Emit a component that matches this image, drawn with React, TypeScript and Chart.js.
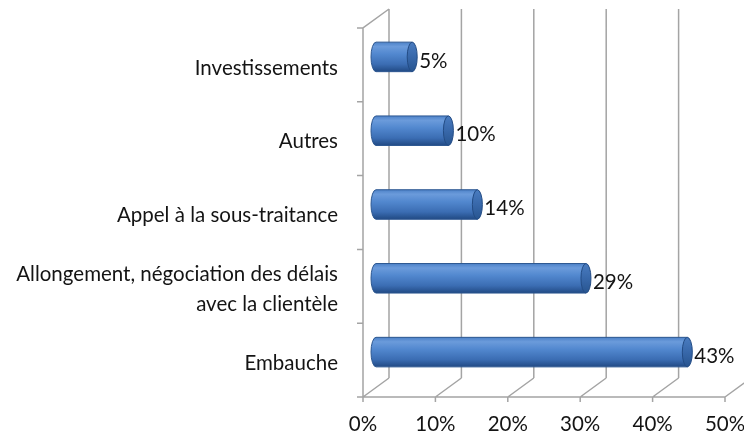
import React, { useEffect, useRef } from 'react';
import { Chart, registerables } from 'chart.js';

Chart.register(...registerables);

const categories: (string | string[])[] = [
  'Investissements',
  'Autres',
  'Appel à la sous-traitance',
  ['Allongement, négociation des délais', 'avec la clientèle'],
  'Embauche',
];
const values = [5, 10, 14, 29, 43];
const tickValues = [0, 10, 20, 30, 40, 50];

const FONT = 'Lato';
const FS = 20.5;
const WALL_DX = 26;
const WALL_DY = -19;
const BAR_DX = 13;
const BAR_DY = -8;
const GRID = '#a4a4a4';
const TEXT = '#141414';

const wallPlugin = {
  id: 'wall3d',
  beforeDatasetsDraw(chart: any) {
    const { ctx, chartArea: a, scales } = chart;
    const x = scales.x;
    const y = scales.y;
    ctx.save();
    ctx.strokeStyle = GRID;
    ctx.lineWidth = 1.5;
    ctx.beginPath();
    tickValues.forEach((v) => {
      const px = x.getPixelForValue(v);
      ctx.moveTo(px + WALL_DX, a.top + WALL_DY);
      ctx.lineTo(px + WALL_DX, a.bottom + WALL_DY);
      ctx.moveTo(px, a.bottom);
      ctx.lineTo(px + WALL_DX, a.bottom + WALL_DY);
      ctx.moveTo(px, a.bottom);
      ctx.lineTo(px, a.bottom + 5);
    });
    ctx.moveTo(a.left + WALL_DX, a.top + WALL_DY);
    ctx.lineTo(a.left, a.top);
    ctx.lineTo(a.left, a.bottom);
    ctx.lineTo(a.right, a.bottom);
    for (let i = 0; i <= categories.length; i++) {
      const py = y.getPixelForValue(i - 0.5);
      ctx.moveTo(a.left - 6, py);
      ctx.lineTo(a.left, py);
    }
    ctx.stroke();
    ctx.restore();
  },
  afterDatasetsDraw(chart: any) {
    const { ctx } = chart;
    const meta = chart.getDatasetMeta(0);
    ctx.save();
    meta.data.forEach((el: any, i: number) => {
      const p = el.getProps(['x', 'y', 'base', 'height'], true);
      const x0 = p.base + BAR_DX;
      const x1 = p.x + BAR_DX;
      const cy = p.y + BAR_DY;
      const ry = p.height / 2;
      const rx = 5;
      const top = cy - ry;
      const bot = cy + ry;
      const g = ctx.createLinearGradient(0, top, 0, bot);
      g.addColorStop(0, '#4d82c8');
      g.addColorStop(0.15, '#6b9bdb');
      g.addColorStop(0.4, '#5288cf');
      g.addColorStop(0.75, '#3b6db3');
      g.addColorStop(1, '#214a84');
      ctx.beginPath();
      ctx.moveTo(x1, top);
      ctx.lineTo(x0, top);
      ctx.ellipse(x0, cy, rx, ry, 0, -Math.PI / 2, Math.PI / 2, true);
      ctx.lineTo(x1, bot);
      ctx.closePath();
      ctx.fillStyle = g;
      ctx.fill();
      ctx.strokeStyle = '#2c5791';
      ctx.lineWidth = 1;
      ctx.stroke();
      const gc = ctx.createLinearGradient(0, top, 0, bot);
      gc.addColorStop(0, '#4a7cc0');
      gc.addColorStop(0.5, '#3868aa');
      gc.addColorStop(1, '#285590');
      ctx.beginPath();
      ctx.ellipse(x1, cy, rx, ry, 0, 0, Math.PI * 2);
      ctx.fillStyle = gc;
      ctx.fill();
      ctx.strokeStyle = '#234c85';
      ctx.stroke();
      ctx.fillStyle = TEXT;
      ctx.font = `${FS}px ${FONT}`;
      ctx.textAlign = 'left';
      ctx.textBaseline = 'middle';
      ctx.fillText(values[i] + '%', x1 + rx + 2, cy + 4);
    });
    ctx.restore();
  },
};

export default function App() {
  const ref = useRef<HTMLCanvasElement | null>(null);
  useEffect(() => {
    if (!ref.current) return;
    const chart = new Chart(ref.current, {
      type: 'bar',
      data: {
        labels: categories as any,
        datasets: [
          {
            data: values,
            backgroundColor: 'rgba(0,0,0,0)',
            borderWidth: 0,
            categoryPercentage: 1,
            barPercentage: 0.4,
          },
        ],
      },
      options: {
        indexAxis: 'y',
        animation: false,
        responsive: false,
        layout: { padding: { top: 28, right: 19, left: 0, bottom: 0 } },
        plugins: { legend: { display: false }, tooltip: { enabled: false } },
        scales: {
          x: {
            min: 0,
            max: 50,
            grid: { display: false, drawTicks: false },
            border: { display: false },
            afterFit: (s: any) => {
              s.height = 35;
              s.paddingLeft = 0;
              s.paddingRight = 0;
            },
            ticks: {
              stepSize: 10,
              padding: 15,
              color: TEXT,
              font: { family: FONT, size: FS },
              callback: (v: any) => v + '%',
              maxRotation: 0,
            },
          },
          y: {
            grid: { display: false, drawTicks: false },
            border: { display: false },
            afterFit: (s: any) => {
              s.width = 363;
              s.paddingTop = 0;
              s.paddingBottom = 0;
            },
            ticks: {
              padding: 25,
              labelOffset: 3,
              color: TEXT,
              font: { family: FONT, size: FS, lineHeight: 1.45 },
            },
          },
        },
      },
      plugins: [wallPlugin],
    });
    return () => chart.destroy();
  }, []);
  return (
    <div style={{ position: 'fixed', left: 0, top: 0, width: 744, height: 432, background: '#fff' }}>
      <canvas ref={ref} width={744} height={432} />
    </div>
  );
}
